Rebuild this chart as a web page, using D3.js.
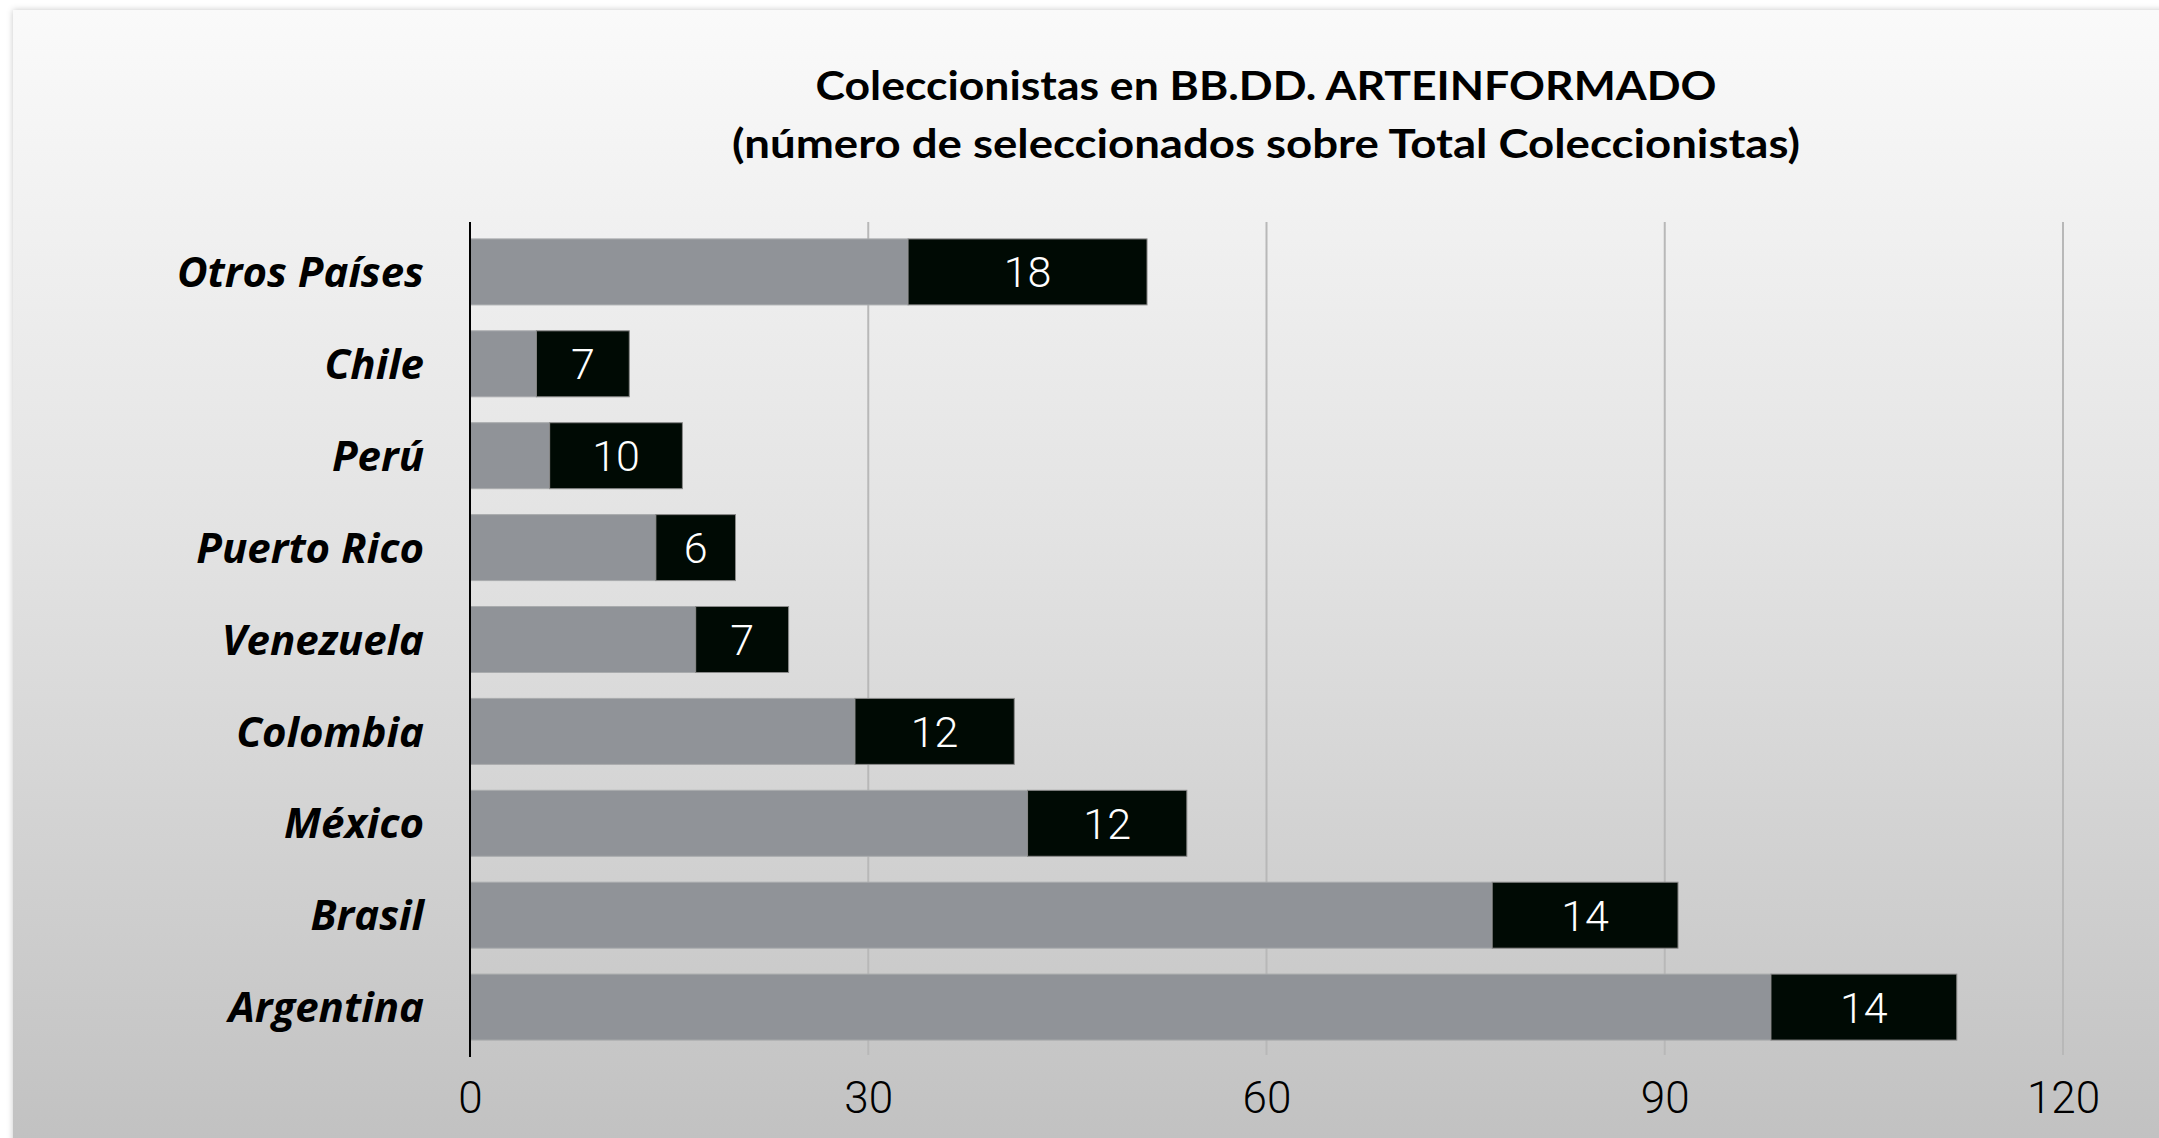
<!DOCTYPE html>
<html>
<head>
<meta charset="utf-8">
<script src="https://cdn.jsdelivr.net/npm/d3@7/dist/d3.min.js"></script>
<style>
  html, body { margin: 0; padding: 0; background: #ffffff; }
  svg { display: block; }
</style>
</head>
<body>
<svg id="chart" width="2159" height="1138"></svg>
<script>
// ---- data ----
const categories = ["Otros Países", "Chile", "Perú", "Puerto Rico", "Venezuela", "Colombia", "México", "Brasil", "Argentina"];
const restValues = [33, 5, 6, 14, 17, 29, 42, 77, 98];      // gray segment
const selectedValues = [18, 7, 10, 6, 7, 12, 12, 14, 14];   // black segment (labelled)
const tickValues = [0, 30, 60, 90, 120];
const titleLines = ["Coleccionistas en BB.DD. ARTEINFORMADO", "(número de seleccionados sobre Total Coleccionistas)"];

// ---- layout ----
const W = 2159, H = 1138;
const svg = d3.select("#chart");
const defs = svg.append("defs");

const grad = defs.append("linearGradient")
  .attr("id", "bg").attr("x1", 0).attr("y1", 0).attr("x2", 0).attr("y2", 1);
grad.append("stop").attr("offset", "0%").attr("stop-color", "#fafafa");
grad.append("stop").attr("offset", "45%").attr("stop-color", "#e3e3e3");
grad.append("stop").attr("offset", "100%").attr("stop-color", "#c0c0c0");

const shadow = defs.append("filter").attr("id", "shadow")
  .attr("x", "-5%").attr("y", "-5%").attr("width", "110%").attr("height", "110%");
shadow.append("feDropShadow").attr("dx", 0).attr("dy", 0)
  .attr("stdDeviation", 3).attr("flood-color", "#000").attr("flood-opacity", 0.22);

svg.append("rect")
  .attr("x", 13).attr("y", 10).attr("width", W + 20).attr("height", H + 20)
  .attr("fill", "url(#bg)").attr("filter", "url(#shadow)");

const x = d3.scaleLinear().domain([0, 120]).range([470, 2063]);
const y = d3.scaleBand().domain(categories).range([222, 1057])
  .paddingInner(0.282).paddingOuter(0.184);

// gridlines
svg.append("g")
  .selectAll("line")
  .data(tickValues.filter(d => d > 0))
  .join("line")
  .attr("x1", d => x(d)).attr("x2", d => x(d))
  .attr("y1", 222).attr("y2", 1055)
  .attr("stroke", "#b8b8b8").attr("stroke-width", 2);

// tick labels via d3 axis
const xAxis = d3.axisBottom(x).tickValues(tickValues).tickSize(0).tickPadding(0).tickFormat(d3.format("d"));
const axG = svg.append("g").attr("transform", "translate(0,1082)").call(xAxis);
axG.select(".domain").remove();
axG.selectAll("text")
  .attr("dy", "0.71em")
  .attr("fill", "#000")
  .style("font-family", "Roboto, 'Open Sans', sans-serif")
  .style("font-weight", 300)
  .style("font-size", "44px");

// bars
const rows = categories.map((c, i) => ({ cat: c, rest: restValues[i], sel: selectedValues[i] }));
const barG = svg.append("g");
barG.selectAll("rect.rest")
  .data(rows).join("rect").attr("class", "rest")
  .attr("x", x(0)).attr("y", d => y(d.cat))
  .attr("width", d => x(d.rest) - x(0)).attr("height", y.bandwidth())
  .attr("fill", "#909398").attr("stroke", "#a9abad").attr("stroke-width", 1);
barG.selectAll("rect.sel")
  .data(rows).join("rect").attr("class", "sel")
  .attr("x", d => x(d.rest)).attr("y", d => y(d.cat))
  .attr("width", d => x(d.rest + d.sel) - x(d.rest)).attr("height", y.bandwidth())
  .attr("fill", "#000a04").attr("stroke", "#8a8a8a").attr("stroke-width", 1);
barG.selectAll("text.val")
  .data(rows).join("text").attr("class", "val")
  .attr("x", d => (x(d.rest) + x(d.rest + d.sel)) / 2)
  .attr("y", d => y(d.cat) + y.bandwidth() / 2)
  .attr("dy", "0.36em")
  .attr("text-anchor", "middle")
  .attr("fill", "#ffffff")
  .style("font-family", "Roboto, 'Open Sans', sans-serif")
  .style("font-weight", 300)
  .style("font-size", "43px")
  .text(d => d.sel);

// y axis line
svg.append("line")
  .attr("x1", x(0)).attr("x2", x(0)).attr("y1", 222).attr("y2", 1057)
  .attr("stroke", "#000").attr("stroke-width", 2);

// category labels
svg.append("g").selectAll("text")
  .data(categories).join("text")
  .attr("x", 424)
  .attr("y", d => y(d) + y.bandwidth() / 2)
  .attr("dy", "0.36em")
  .attr("text-anchor", "end")
  .attr("fill", "#000")
  .style("font-family", "'Open Sans', Lato, sans-serif")
  .style("font-weight", 700)
  .style("font-style", "italic")
  .style("font-size", "42px")
  .text(d => d);

// title
const titleWidths = [901, 1068];
const titleY = [100, 158];
titleLines.forEach((t, i) => {
  svg.append("text")
    .attr("x", 1266).attr("y", titleY[i])
    .attr("text-anchor", "middle")
    .attr("textLength", titleWidths[i])
    .attr("lengthAdjust", "spacingAndGlyphs")
    .attr("fill", "#000")
    .style("font-family", "Lato, sans-serif")
    .style("font-weight", 700)
    .style("font-size", "41px")
    .text(t);
});
</script>
</body>
</html>
